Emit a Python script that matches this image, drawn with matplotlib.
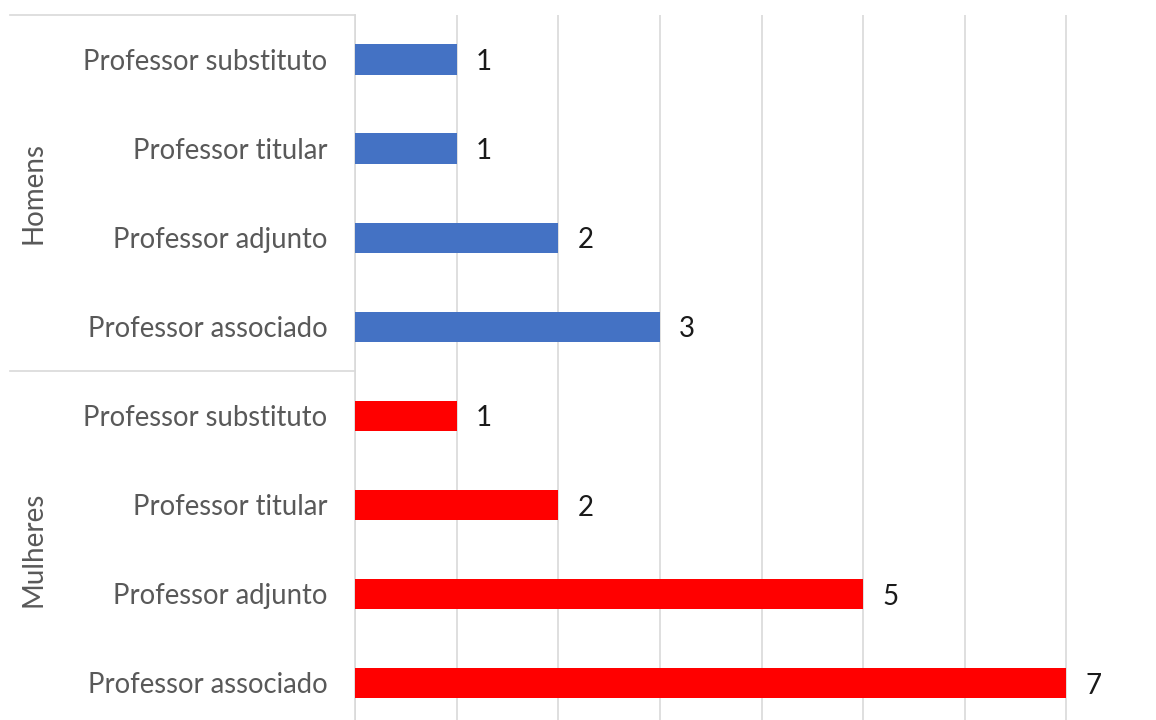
import numpy as np
import matplotlib
matplotlib.use("Agg")
import matplotlib.pyplot as plt
import matplotlib.transforms as mtransforms

plt.rcParams['font.family'] = ['Lato', 'DejaVu Sans']

# data, top to bottom
groups = ["Homens", "Mulheres"]
cargos = ["Professor substituto", "Professor titular", "Professor adjunto", "Professor associado"]
homens = [1, 1, 2, 3]
mulheres = [1, 2, 5, 7]
colors = ["#4472C4", "#FF0000"]

W, H = 1156, 720
fig = plt.figure(figsize=(W / 100, H / 100), dpi=100)

# axes placed in pixels so the cropped look of the original is kept
left, right, top, bottom = 355, 1168, 15, 727.5
ax = fig.add_axes([left / W, (H - bottom) / H, (right - left) / W, (bottom - top) / H])

labels = cargos + cargos
values = homens + mulheres
bar_colors = [colors[0]] * len(homens) + [colors[1]] * len(mulheres)
ypos = np.arange(len(values))

ax.barh(ypos, values, height=0.34, color=bar_colors, zorder=3)
ax.set_xlim(0, 8)
ax.set_ylim(len(values) - 0.5, -0.5)

ax.set_xticks(np.arange(0, 9))
ax.xaxis.grid(True, color="#D9D9D9", linewidth=1.2, zorder=0)
ax.tick_params(axis="x", length=0, labelbottom=False)
ax.tick_params(axis="y", length=0, pad=20, labelsize=19.8, labelcolor="#595959")
ax.set_yticks(ypos)
ax.set_yticklabels(labels)

for s in ["top", "right", "bottom"]:
    ax.spines[s].set_visible(False)
ax.spines["left"].set_color("#D9D9D9")
ax.spines["left"].set_linewidth(1.2)

# value labels
for y, v in zip(ypos, values):
    ax.text(v + 0.19, y + 0.03, str(v), va="center", ha="left", fontsize=20, color="#1a1a1a")

# group separators and group names
trans = mtransforms.blended_transform_factory(ax.transAxes, ax.transData)
x0 = (10 - left) / (right - left)
n = len(cargos)
for k, g in enumerate(groups):
    ytop = k * n - 0.5
    ax.plot([x0, 0], [ytop, ytop], transform=trans, color="#D9D9D9",
            linewidth=1.2, clip_on=False)
    ax.text((33 - left) / (right - left), k * n + (n - 1) / 2, g, transform=trans,
            rotation=90, ha="center", va="center", fontsize=20, color="#595959")

fig.savefig("out.png", dpi=100)
